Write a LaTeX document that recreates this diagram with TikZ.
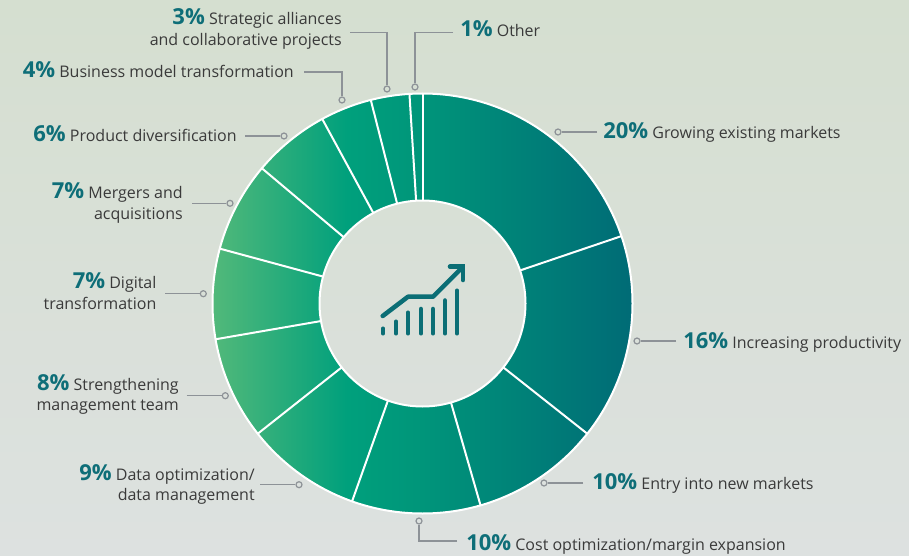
\documentclass[tikz,border=0pt]{standalone}
\usepackage{fontspec}
\setmainfont{Open Sans}
\usetikzlibrary{calc}
\definecolor{pctcol}{HTML}{0E6E78}
\definecolor{txtcol}{HTML}{3A3A3A}
\definecolor{leadcol}{HTML}{8D9297}
\definecolor{bgtop}{HTML}{D5DFD0}
\definecolor{bgbot}{HTML}{DDE1E0}
\definecolor{dgA}{HTML}{52B97A}
\definecolor{dgB}{HTML}{00A07C}
\definecolor{dgM}{HTML}{00957A}
\definecolor{dgC}{HTML}{006B76}
\definecolor{iconcol}{HTML}{0B6E75}
\pgfdeclarehorizontalshading{donutshade}{100bp}{color(0bp)=(dgA); color(25bp)=(dgA); color(41bp)=(dgB); color(50bp)=(dgM); color(75bp)=(dgC); color(100bp)=(dgC)}
\newcommand\pctxt[1]{{\color{pctcol}\fontsize{16.5}{18}\bfseries\selectfont #1}}
\tikzset{
  lab/.style={inner sep=0pt, text=txtcol, font=\fontsize{12}{14}\selectfont},
  dot/.style={circle, draw=leadcol, line width=0.9pt, inner sep=0pt, minimum size=4.5pt},
  leader/.style={draw=leadcol, line width=0.9pt},
  sep/.style={draw=white, line width=1.5pt},
  bar/.style={draw=iconcol, line width=3.4pt, line cap=round}
}
\begin{document}
\begin{tikzpicture}[x=0.75pt, y=-0.75pt]
\useasboundingbox (0,0) rectangle (909,556);
\shade[top color=bgtop, bottom color=bgbot] (0,0) rectangle (909,556);
\coordinate (c) at (422.5,303.5);
% donut
\shade[shading=donutshade, even odd rule] (c) circle[radius=210] (c) circle[radius=103];
\foreach \k in {0,20,36,46,56,65,73,80,87,93,97,100} {
  \draw[sep] ($(c)+({\k/101*360-90}:103)$) -- ($(c)+({\k/101*360-90}:210)$);
}
\draw[sep] (c) circle[radius=210];
\draw[sep] (c) circle[radius=103];
% icon
\draw[bar] (383,328.7) -- (383,333.3);
\draw[bar] (396,321.7) -- (396,333.3);
\draw[bar] (408,312.7) -- (408,333.3);
\draw[bar] (421,309) -- (421,333.3);
\draw[bar] (433,309) -- (433,333.3);
\draw[bar] (445,300.5) -- (445,333.3);
\draw[bar] (457,290.7) -- (457,333.3);
\draw[bar, line join=round] (382.7,316) -- (408,296.7) -- (433,296.7) -- (462,267.7);
\draw[bar, line join=miter] (450,266.7) -- (463,266.7) -- (463,280);
% dots
\node[dot] (d20) at (558,132) {};
\node[dot] (d16) at (637,341) {};
\node[dot] (d10e) at (544,483) {};
\node[dot] (d10c) at (419,521) {};
\node[dot] (d9) at (299,484.7) {};
\node[dot] (d8) at (225.3,395.7) {};
\node[dot] (d7d) at (203.3,293.7) {};
\node[dot] (d7m) at (230,203.3) {};
\node[dot] (d6) at (284,136) {};
\node[dot] (d4) at (342,100) {};
\node[dot] (d3) at (387,89) {};
\node[dot] (d1) at (415,87) {};
% leader ends
\coordinate (e20) at (597,132);
\coordinate (e16) at (676,341);
\coordinate (e10e) at (583,483);
\coordinate (e10c) at (457,541);
\coordinate (e9) at (260,484.7);
\coordinate (e8) at (186.7,395.7);
\coordinate (e7d) at (165,293.7);
\coordinate (e7m) at (192,203.3);
\coordinate (e6) at (245,136);
\coordinate (e4) at (304,72);
\coordinate (e3) at (350,32.7);
\coordinate (e1) at (453,32.7);
\draw[leader] (e20) -- (d20);
\draw[leader] (e16) -- (d16);
\draw[leader] (e10e) -- (d10e);
\draw[leader] (e10c) -| (d10c);
\draw[leader] (e9) -- (d9);
\draw[leader] (e8) -- (d8);
\draw[leader] (e7d) -- (d7d);
\draw[leader] (e7m) -- (d7m);
\draw[leader] (e6) -- (d6);
\draw[leader] (e4) -| (d4);
\draw[leader] (e3) -| (d3);
\draw[leader] (e1) -| (d1);
% labels
\node[lab, anchor=base west] (l20) at (603,139) {\pctxt{20\%} Growing existing markets};
\node[lab, anchor=base west] (l16) at (683,348) {\pctxt{16\%} Increasing productivity};
\node[lab, anchor=base west] (l10e) at (592,489) {\pctxt{10\%} Entry into new markets};
\node[lab, anchor=base west] (l10c) at (466,550) {\pctxt{10\%} Cost optimization/margin expansion};
\node[lab, anchor=base east] (l9a) at (255,480) {\pctxt{9\%} Data optimization/};
\node[lab, anchor=base east] (l9b) at (255,500.7) {data management};
\node[lab, anchor=base east] (l8a) at (179,390) {\pctxt{8\%} Strengthening};
\node[lab, anchor=base east] (l8b) at (179,410.7) {management team};
\node[lab, anchor=base east] (l7da) at (156.7,288.3) {\pctxt{7\%} Digital};
\node[lab, anchor=base east] (l7db) at (156.7,309.3) {transformation};
\node[lab, anchor=base east] (l7ma) at (183,198.3) {\pctxt{7\%} Mergers and};
\node[lab, anchor=base east] (l7mb) at (183,219.3) {acquisitions};
\node[lab, anchor=base east] (l6) at (237,141.7) {\pctxt{6\%} Product diversification};
\node[lab, anchor=base east] (l4) at (294,77.3) {\pctxt{4\%} Business model transformation};
\node[lab, anchor=base east] (l3a) at (342,25) {\pctxt{3\%} Strategic alliances};
\node[lab, anchor=base east] (l3b) at (342,46) {and collaborative projects};
\node[lab, anchor=base west] (l1) at (460,36.7) {\pctxt{1\%} Other};
\end{tikzpicture}
\end{document}
